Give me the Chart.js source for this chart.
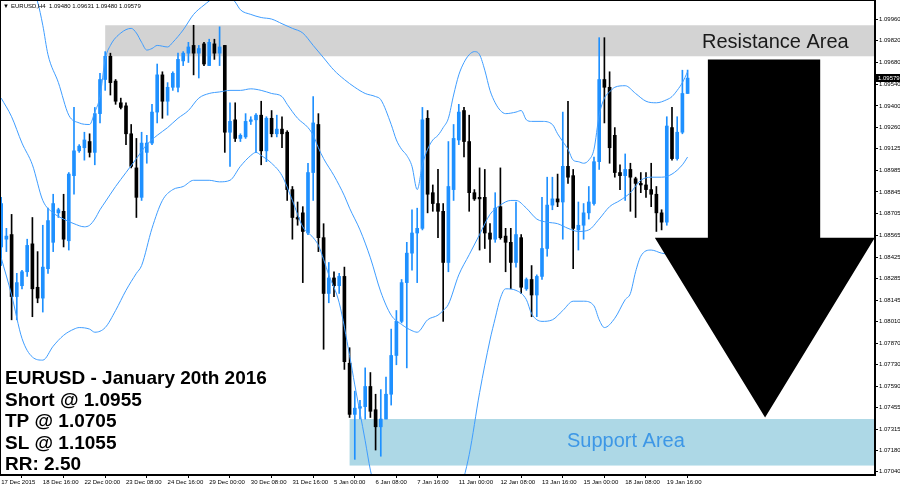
<!DOCTYPE html>
<html><head><meta charset="utf-8">
<script src="https://cdn.jsdelivr.net/npm/chart.js@4.4.0/dist/chart.umd.min.js"></script>
<style>html,body{margin:0;padding:0;background:#fff;overflow:hidden}</style>
</head><body>
<canvas id="c" width="900" height="489"></canvas>
<script>
// ---- data (EURUSD H4, bar 0 = 17 Dec 2015 08:00) ----
const openP = [1.0849,1.0854,1.0857,1.0817,1.0824,1.0833,1.0851,1.0823,1.0816,1.0835,
1.0852,1.0871,1.0872,1.0853,1.0895,1.0911,1.0913,1.0917,1.0910,1.0935,
1.0957,1.0972,1.0956,1.0942,1.0940,1.0922,1.0900,1.0881,1.0910,1.0916,
1.0936,1.0960,1.0943,1.0952,1.0952,1.0969,1.0974,1.0979,1.0974,1.0980,
1.0966,1.0980,1.0974,1.0979,1.0923,1.0931,1.0919,1.0920,1.0930,1.0931,
1.0934,1.0911,1.0932,1.0922,1.0925,1.0923,1.0886,1.0868,1.0871,1.0858,
1.0897,1.0928,1.0855,1.0819,1.0829,1.0824,1.0830,1.0774,1.0741,1.0745,
1.0746,1.0759,1.0744,1.0733,1.0738,1.0754,1.0779,1.0801,1.0826,1.0845,
1.0858,1.0861,1.0932,1.0884,1.0877,1.0872,1.0839,1.0886,1.0918,1.0937,
1.0917,1.0884,1.0881,1.0881,1.0858,1.0854,1.0875,1.0856,1.0852,1.0839,
1.0855,1.0822,1.0828,1.0818,1.0830,1.0848,1.0876,1.0880,1.0878,1.0901,
1.0895,1.0860,1.0863,1.0871,1.0877,1.0904,1.0957,1.0952,1.0921,1.0897,
1.0895,1.0899,1.0893,1.0890,1.0889,1.0886,1.0883,1.0871,1.0865,1.0926,
1.0906,1.0923,1.09480];
const highP = [1.0881,1.0861,1.0870,1.0832,1.0834,1.0854,1.0868,1.0846,1.0863,1.0874,
1.0883,1.0874,1.0883,1.0897,1.0939,1.0915,1.0923,1.0922,1.0939,1.0961,
1.0975,1.0974,1.0957,1.0945,1.0942,1.0928,1.0919,1.0923,1.0921,1.0941,
1.0967,1.0962,1.0955,1.0962,1.0974,1.0975,1.0981,1.0992,1.0979,1.0981,
1.0983,1.0983,1.0991,1.0979,1.0942,1.0942,1.0922,1.0935,1.0933,1.0935,
1.0943,1.0933,1.0937,1.0934,1.0933,1.0924,1.0888,1.0878,1.0875,1.0903,
1.0946,1.0935,1.0864,1.0839,1.0833,1.0832,1.0836,1.0784,1.0756,1.0750,
1.0771,1.0768,1.0754,1.0757,1.0765,1.0796,1.0808,1.0828,1.0852,1.0873,
1.0874,1.0939,1.0937,1.0889,1.0899,1.0877,1.0917,1.0928,1.0941,1.0939,
1.0934,1.0886,1.0900,1.0899,1.0864,1.0884,1.0900,1.0861,1.0861,1.0878,
1.0857,1.0829,1.0837,1.0831,1.0881,1.0894,1.0894,1.0896,1.0936,1.0943,
1.0899,1.0878,1.0877,1.0888,1.0907,1.0984,1.0984,1.0962,1.0926,1.0902,
1.0909,1.0903,1.0894,1.0897,1.0897,1.0903,1.0888,1.0873,1.0933,1.0939,
1.0933,1.0963,1.09631];
const lowP = [1.0837,1.0846,1.0802,1.0802,1.0822,1.0830,1.0804,1.0813,1.0807,1.0832,
1.0846,1.0868,1.0849,1.0847,1.0883,1.0910,1.0905,1.0907,1.0902,1.0929,
1.0950,1.0947,1.0941,1.0938,1.0915,1.0900,1.0868,1.0879,1.0903,1.0915,
1.0929,1.0932,1.0934,1.0950,1.0949,1.0966,1.0968,1.0960,1.0958,1.0966,
1.0966,1.0970,1.0966,1.0910,1.0901,1.0917,1.0917,1.0919,1.0928,1.0910,
1.0902,1.0904,1.0920,1.0920,1.0913,1.0879,1.0854,1.0863,1.0826,1.0857,
1.0879,1.0846,1.0783,1.0813,1.0817,1.0819,1.0770,1.0739,1.0712,1.0738,
1.0738,1.0739,1.0718,1.0714,1.0738,1.0747,1.0773,1.0800,1.0771,1.0834,
1.0826,1.0860,1.0871,1.0872,1.0855,1.0801,1.0833,1.0879,1.0915,1.0907,
1.0872,1.0879,1.0847,1.0848,1.0839,1.0852,1.0854,1.0833,1.0822,1.0836,
1.0819,1.0821,1.0804,1.0804,1.0828,1.0843,1.0873,1.0875,1.0854,1.0890,
1.0835,1.0847,1.0854,1.0867,1.0876,1.0899,1.0929,1.0903,1.0894,1.0886,
1.0879,1.0872,1.0868,1.0884,1.0881,1.0875,1.0859,1.0860,1.0863,1.0905,
1.0905,1.0922,1.09480];
const closeP = [1.0877,1.0856,1.0817,1.0826,1.0833,1.0850,1.0822,1.0816,1.0836,1.0866,
1.0877,1.0873,1.0854,1.0896,1.0911,1.0914,1.0918,1.0910,1.0935,1.0957,
1.0972,1.0955,1.0943,1.0939,1.0922,1.0901,1.0881,1.0916,1.0916,1.0936,
1.0960,1.0943,1.0952,1.0961,1.0970,1.0974,1.0978,1.0974,1.0977,1.0967,
1.0981,1.0974,1.0978,1.0923,1.0930,1.0919,1.0921,1.0930,1.0931,1.0934,
1.0911,1.0932,1.0922,1.0925,1.0922,1.0886,1.0868,1.0867,1.0859,1.0897,
1.0929,1.0855,1.0819,1.0829,1.0824,1.0830,1.0775,1.0741,1.0745,1.0746,
1.0759,1.0743,1.0733,1.0738,1.0754,1.0779,1.0801,1.0826,1.0845,1.0858,
1.0861,1.0931,1.0883,1.0877,1.0872,1.0839,1.0888,1.0919,1.0936,1.0917,
1.0884,1.0880,1.0880,1.0858,1.0854,1.0874,1.0855,1.0852,1.0839,1.0857,
1.0823,1.0828,1.0818,1.0830,1.0848,1.0876,1.0880,1.0878,1.0901,1.0894,
1.0861,1.0863,1.0871,1.0878,1.0904,1.0957,1.0952,1.0913,1.0897,1.0895,
1.0899,1.0894,1.0890,1.0889,1.0886,1.0883,1.0871,1.0865,1.0927,1.0906,
1.0923,1.0948,1.09579];

// Bollinger bands, read at sample bars
const upperBars = [4,7,8,9,11,13,15,17,18,19,20,21,23,25,26,27,28,29,30,32,33,35,37,39,41,43,45,46,48,50,52,54,56,58,60,62,64,66,68,70,72,73,75,76,77,78,79,80,81,82,83,84,85,86,87,88,89,90,91,92,93,94,95,96,97,99,100,101,102,104,106,107,108,109,110,111,112,113,114,115,116,117,118,120,122,124,126,128,129,130,131,132];
const upperVals = [1.1031,1.1007,1.0992,1.0973,1.0955,1.0934,1.0929,1.0928,1.0936,1.0946,1.0970,1.0979,1.0987,1.0990,1.0987,1.0981,1.0976,1.0977,1.0979,1.0978,1.0981,1.0989,1.0999,1.1005,1.1010,1.1013,1.1007,1.1002,1.0999,1.0997,1.0996,1.0993,1.0990,1.0987,1.0979,1.0971,1.0963,1.0957,1.0952,1.0948,1.0946,1.0944,1.0928,1.0918,1.0912,1.0908,1.0901,1.0886,1.0902,1.0912,1.0918,1.0921,1.0926,1.0932,1.0947,1.0960,1.0968,1.0973,1.0975,1.0973,1.0963,1.0950,1.0942,1.0937,1.0935,1.0936,1.0937,1.0931,1.0930,1.0930,1.0928,1.0922,1.0917,1.0912,1.0905,1.0904,1.0903,1.0905,1.0912,1.0934,1.0945,1.0949,1.0952,1.0953,1.0948,1.0943,1.0942,1.0944,1.0946,1.0950,1.0955,1.0962];
const middleBars = [0,2,4,6,8,10,12,14,16,17,18,19,20,22,24,26,28,30,32,34,36,38,40,42,44,46,48,50,52,54,55,57,59,60,61,62,64,66,67,69,71,73,75,77,79,80,82,84,85,86,88,90,92,94,96,98,99,101,103,105,107,109,111,113,115,117,119,121,123,125,127,129,131,132];
const middleVals = [1.0945,1.0933,1.0916,1.0902,1.0879,1.0871,1.0867,1.0864,1.0862,1.0863,1.0867,1.0873,1.0878,1.0888,1.0897,1.0906,1.0915,1.0921,1.0926,1.0932,1.0937,1.0945,1.0948,1.0949,1.0950,1.0950,1.0951,1.0950,1.0948,1.0946,1.0941,1.0932,1.0926,1.0921,1.0913,1.0906,1.0895,1.0882,1.0874,1.0860,1.0842,1.0820,1.0805,1.0799,1.0795,1.0794,1.0802,1.0805,1.0808,1.0812,1.0831,1.0844,1.0857,1.0870,1.0876,1.0879,1.0879,1.0874,1.0867,1.0865,1.0864,1.0861,1.0859,1.0860,1.0867,1.0875,1.0879,1.0884,1.0892,1.0894,1.0894,1.0896,1.0902,1.0907];
const lowerBars = [0,2,4,6,8,10,12,14,15,17,18,20,22,24,26,27,29,31,33,35,37,40,42,44,46,48,49,50,52,54,56,58,60,61,63,65,67,68,70,71,72,76,80,84,88,90,92,94,95,96,97,99,101,102,104,106,108,110,112,114,115,116,118,120,121,122,123,125,127,129,131,132];
const lowerVals = [1.0842,1.0818,1.0790,1.0778,1.0776,1.0785,1.0792,1.0796,1.0797,1.0796,1.0794,1.0797,1.0808,1.0821,1.0832,1.0837,1.0861,1.0879,1.0886,1.0888,1.0892,1.0892,1.0891,1.0892,1.0901,1.0908,1.0910,1.0908,1.0903,1.0895,1.0879,1.0862,1.0855,1.0850,1.0831,1.0813,1.0779,1.0760,1.0724,1.0705,1.0692,1.0660,1.0647,1.0660,1.0689,1.0715,1.0755,1.0789,1.0803,1.0816,1.0822,1.0821,1.0815,1.0806,1.0801,1.0802,1.0808,1.0814,1.0814,1.0811,1.0802,1.0797,1.0803,1.0815,1.0819,1.0833,1.0843,1.0847,1.0845,1.0844,1.0843,1.0842];

// axes
const xTickBars = [0,8,16,24,32,40,48,56,64,72,80,88,96,104,112,120,128];
const xTickLabels = ['17 Dec 2015','18 Dec 16:00','22 Dec 00:00','23 Dec 08:00','24 Dec 16:00','29 Dec 00:00','30 Dec 08:00','31 Dec 16:00','5 Jan 00:00','6 Jan 08:00','7 Jan 16:00','11 Jan 00:00','12 Jan 08:00','13 Jan 16:00','15 Jan 00:00','18 Jan 08:00','19 Jan 16:00'];
const yTickVals = [1.07040,1.07180,1.07315,1.07455,1.07590,1.07730,1.07870,1.08010,1.08145,1.08285,1.08425,1.08565,1.08705,1.08845,1.08985,1.09125,1.09260,1.09400,1.09540,1.09680,1.09820,1.09960];

// zones / annotation (bar index, price)
const resistanceZone = {fromBar:20, top:1.0992, bottom:1.0972};
const supportZone = {fromBar:67, top:1.0738, bottom:1.0708};
const arrowShape = {shaftL:135.9, shaftR:157.5, shaftTop:1.0970, headBase:1.0855, headL:125.7, headR:168.0, tipBar:146.9, tipPrice:1.0739};
const infoLines = ['EURUSD - January 20th 2016','Short @ 1.0955','TP @ 1.0705','SL @ 1.1055','RR: 2.50'];
const titleText = 'EURUSD,H4  1.09480 1.09631 1.09480 1.09579';

const BLUE = '#1e90ff', BLACK = '#000000';
const bars = openP.map((_, i) => i);
const colors = bars.map(i => closeP[i] >= openP[i] ? BLUE : BLACK);

const bodies = bars.map(i => ({x: i, y: [openP[i], closeP[i]]}));
const wicks = bars.map(i => ({x: i, y: [lowP[i], highP[i]]}));
const toPts = (b, v) => b.map((k, j) => ({x: k, y: v[j]}));

const FONT = "'Liberation Sans', Arial, sans-serif";

const overlay = {
  id: 'overlay',
  beforeDatasetsDraw(chart) {
    const {ctx, chartArea: a, scales: {x, y}} = chart;
    ctx.save();
    ctx.beginPath(); ctx.rect(a.left, a.top, a.right - a.left, a.bottom - a.top); ctx.clip();
    ctx.fillStyle = '#d3d3d3';
    let x0 = x.getPixelForValue(resistanceZone.fromBar), y0 = y.getPixelForValue(resistanceZone.top), y1 = y.getPixelForValue(resistanceZone.bottom);
    ctx.fillRect(x0, y0, a.right - x0, y1 - y0);
    ctx.fillStyle = '#add8e6';
    x0 = x.getPixelForValue(supportZone.fromBar); y0 = y.getPixelForValue(supportZone.top); y1 = y.getPixelForValue(supportZone.bottom);
    ctx.fillRect(x0, y0, a.right - x0, y1 - y0);
    ctx.restore();
  },
  afterDatasetsDraw(chart) {
    const {ctx, chartArea: a, scales: {x, y}} = chart;
    const s = arrowShape;
    ctx.save();
    ctx.beginPath(); ctx.rect(a.left, a.top, a.right - a.left, a.bottom - a.top); ctx.clip();
    ctx.fillStyle = '#000';
    ctx.beginPath();
    ctx.moveTo(x.getPixelForValue(s.shaftL), y.getPixelForValue(s.shaftTop));
    ctx.lineTo(x.getPixelForValue(s.shaftR), y.getPixelForValue(s.shaftTop));
    ctx.lineTo(x.getPixelForValue(s.shaftR), y.getPixelForValue(s.headBase));
    ctx.lineTo(x.getPixelForValue(s.headR), y.getPixelForValue(s.headBase));
    ctx.lineTo(x.getPixelForValue(s.tipBar), y.getPixelForValue(s.tipPrice));
    ctx.lineTo(x.getPixelForValue(s.headL), y.getPixelForValue(s.headBase));
    ctx.lineTo(x.getPixelForValue(s.shaftL), y.getPixelForValue(s.headBase));
    ctx.closePath(); ctx.fill();
    // zone labels
    ctx.textBaseline = 'alphabetic'; ctx.textAlign = 'left';
    ctx.font = '20px ' + FONT; ctx.fillStyle = '#1a1a1a';
    ctx.fillText('Resistance Area', 702, 48);
    ctx.fillStyle = '#3d97e6';
    ctx.fillText('Support Area', 567, 447);
    ctx.restore();
  },
  afterDraw(chart) {
    const {ctx, chartArea: a, scales: {y}} = chart;
    ctx.save();
    ctx.strokeStyle = '#000'; ctx.lineWidth = 1;
    ctx.strokeRect(a.left + 0.5, a.top + 0.5, a.right - a.left - 1, a.bottom - a.top - 1);
    // title
    ctx.fillStyle = '#000'; ctx.textAlign = 'left'; ctx.textBaseline = 'alphabetic';
    ctx.font = '6px ' + FONT;
    ctx.fillText('\u25BC', 3, 8);
    ctx.fillText(titleText, 11, 8);
    // info block
    ctx.font = 'bold 19px ' + FONT;
    infoLines.forEach((t, i) => ctx.fillText(t, 5, 384 + i * 21.5));
    // current price tag
    const last = closeP[closeP.length - 1];
    const py = y.getPixelForValue(last);
    ctx.fillStyle = '#000';
    ctx.fillRect(a.right + 1, Math.round(py) - 4, 24, 8);
    ctx.fillStyle = '#fff'; ctx.font = '6px ' + FONT; ctx.textBaseline = 'middle';
    ctx.fillText(last.toFixed(5), a.right + 3, py);
    ctx.restore();
  }
};

new Chart(document.getElementById('c'), {
  type: 'bar',
  data: {
    datasets: [
      {type: 'line', label: 'upper', data: toPts(upperBars, upperVals), borderColor: '#3f9dff', borderWidth: 1, pointRadius: 0, cubicInterpolationMode: 'monotone', order: 0},
      {type: 'line', label: 'middle', data: toPts(middleBars, middleVals), borderColor: '#3f9dff', borderWidth: 1, pointRadius: 0, cubicInterpolationMode: 'monotone', order: 0},
      {type: 'line', label: 'lower', data: toPts(lowerBars, lowerVals), borderColor: '#3f9dff', borderWidth: 1, pointRadius: 0, cubicInterpolationMode: 'monotone', order: 0},
      {label: 'body', data: bodies, backgroundColor: colors, borderWidth: 0, barThickness: 3, minBarLength: 1, grouped: false, order: 1},
      {label: 'wick', data: wicks, backgroundColor: colors, borderWidth: 0, barThickness: 1, grouped: false, order: 2}
    ]
  },
  options: {
    responsive: false, animation: false, devicePixelRatio: 1,
    layout: {padding: 0},
    plugins: {legend: {display: false}, tooltip: {enabled: false}},
    scales: {
      x: {
        type: 'linear', min: -0.23, max: 168.04, offset: false,
        afterBuildTicks: s => { s.ticks = xTickBars.map(v => ({value: v})); },
        afterFit: s => { s.height = 14; s.paddingLeft = 0; s.paddingRight = 0; },
        grid: {drawOnChartArea: false, drawTicks: true, tickLength: 3, color: '#000'},
        border: {display: true, color: '#000'},
        ticks: {autoSkip: false, maxRotation: 0, minRotation: 0, align: 'start', padding: 1, color: '#000',
          font: {size: 6, family: FONT},
          callback: v => { const j = xTickBars.indexOf(v); return j >= 0 ? xTickLabels[j] : ''; }}
      },
      y: {
        type: 'linear', position: 'right', min: 1.07019, max: 1.10083,
        afterBuildTicks: s => { s.ticks = yTickVals.map(v => ({value: v})); },
        afterFit: s => { s.width = 25; s.paddingTop = 0; s.paddingBottom = 0; },
        grid: {drawOnChartArea: false, drawTicks: true, tickLength: 3, color: '#000'},
        border: {display: true, color: '#000'},
        ticks: {padding: 1, color: '#000', font: {size: 6, family: FONT}, callback: v => v.toFixed(5)}
      }
    }
  },
  plugins: [overlay]
});
</script>
</body></html>
